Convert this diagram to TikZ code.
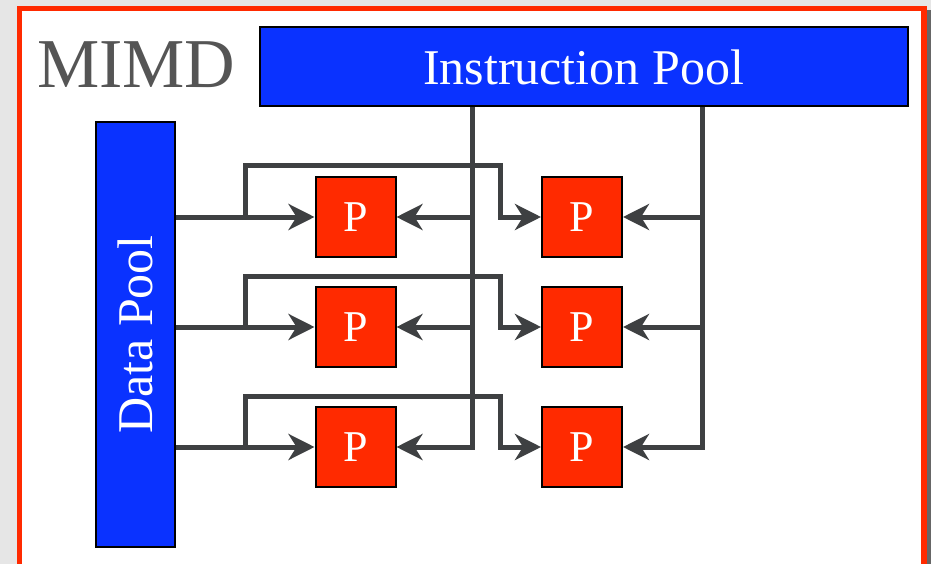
\documentclass[tikz,border=0pt]{standalone}
\usepackage{fontspec}
\setmainfont{Liberation Serif}
\usetikzlibrary{arrows.meta}
\definecolor{poolblue}{HTML}{0A32FF}
\definecolor{procred}{HTML}{FF2A00}
\definecolor{wirecol}{HTML}{3E4042}
\definecolor{framered}{HTML}{FF2A00}
\definecolor{paper}{HTML}{E6E6E6}
\definecolor{titlegray}{HTML}{555555}

\begin{document}
\begin{tikzpicture}[x=1pt,y=-1pt,
  pool/.style={draw=black, line width=2pt, fill=poolblue, text=white, inner sep=0pt},
  proc/.style={draw=black, line width=2pt, fill=procred, text=white,
               minimum width=80pt, minimum height=80pt, inner sep=0pt,
               font=\fontsize{44}{44}\selectfont},
  wire/.style={draw=wirecol, line width=5pt},
  feed/.style={wire, -{Stealth[length=26pt,width=26pt,inset=8pt]}}]

  % page and frame
  \useasboundingbox (0,0) rectangle (931,564);
  \clip (0,0) rectangle (931,564);
  \fill[paper] (0,0) rectangle (931,564);
  \fill[black!60] (925,10) rectangle (931,570);
  \draw[framered, line width=5.5pt, fill=white] (19.5,8.5) rectangle (924,567);

  % title
  \node[text=titlegray, anchor=base west, inner sep=0pt,
        font=\fontsize{70}{70}\selectfont] (title) at (37,88) {MIMD};

  % pools
  \node[pool, minimum width=648pt, minimum height=79pt,
        font=\fontsize{50}{50}\selectfont] (ipool) at (583.5,67) {Instruction Pool};
  \node[pool, minimum width=79pt, minimum height=424pt] (dpool) at (135.5,334.5) {};
  \node[rotate=90, text=white, font=\fontsize{50}{50}\selectfont] (dlabel)
        at (dpool.center) {Data Pool};

  % processors
  \node[proc] (p11) at (355.5,217) {P};
  \node[proc] (p21) at (582,217) {P};
  \node[proc] (p12) at (355.5,327) {P};
  \node[proc] (p22) at (582,327) {P};
  \node[proc] (p13) at (355.5,447) {P};
  \node[proc] (p23) at (582,447) {P};

  % instruction buses
  \coordinate (busA) at (472,0);
  \coordinate (busB) at (702,0);
  \draw[feed] (ipool.south -| busA) |- (p13.east);
  \draw[feed] (busA |- p11) -- (p11.east);
  \draw[feed] (busA |- p12) -- (p12.east);
  \draw[feed] (ipool.south -| busB) |- (p23.east);
  \draw[feed] (busB |- p21) -- (p21.east);
  \draw[feed] (busB |- p22) -- (p22.east);

  % data feeds: straight to the first column, looped over to the second
  \coordinate (split) at (245,0);
  \coordinate (drop) at (500,0);
  \foreach \a/\b in {p11/p21, p12/p22, p13/p23} {
    \draw[feed] (dpool.east |- \a) -- (\a.west);
    \draw[feed] (split |- \a) -- ([yshift=51pt]split |- \a)
                -| (drop |- \b) -- (\b.west);
  }
\end{tikzpicture}
\end{document}
